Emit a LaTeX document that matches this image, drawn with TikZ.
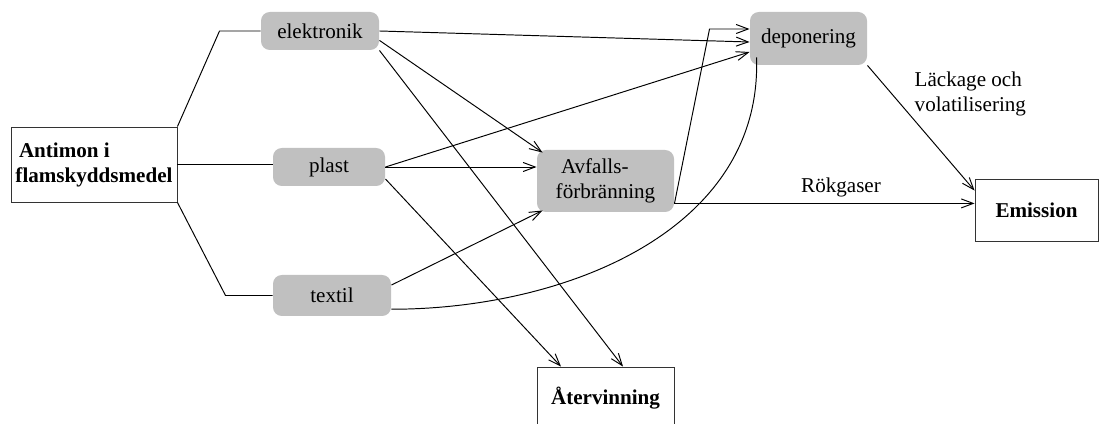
\documentclass[tikz,border=0pt]{standalone}
\usepackage{fontspec}
\setmainfont{Liberation Serif}
\usepackage{tikz}
\usetikzlibrary{arrows.meta, positioning}
\definecolor{boxgray}{RGB}{192,192,192}

\begin{document}
\begin{tikzpicture}[
  flow/.style={rectangle, fill=boxgray, rounded corners=5pt, inner sep=0pt, align=left},
  endp/.style={rectangle, draw=black!80, line width=0.5pt, inner sep=0pt, align=left, font=\fontsize{12}{14.2}\selectfont\bfseries},
  lbl/.style={inner sep=1pt, align=left},
  >={Straight Barb[length=2.4mm,width=1.8mm]}, line width=0.55pt,
  every node/.append style={font=\fontsize{12}{14.2}\selectfont}
]
  \useasboundingbox (0,0) rectangle (21.98,8.46);

  \node[endp, minimum width=3.32cm, minimum height=1.5cm] (antimon) at (1.88,5.17)
    {\hspace*{2pt}Antimon i\\flamskyddsmedel};
  \node[flow, minimum width=2.36cm, minimum height=0.76cm] (elek)   at (6.40,7.84) {elektronik};
  \node[flow, minimum width=2.24cm, minimum height=0.76cm] (plast)  at (6.58,5.12) {plast};
  \node[flow, minimum width=2.36cm, minimum height=0.82cm] (textil) at (6.64,2.55) {textil};
  \node[flow, minimum width=2.74cm, minimum height=1.24cm] (avf)    at (12.11,4.84)
    {\hspace*{3pt}Avfalls-\\förbränning};
  \node[flow, minimum width=2.34cm, minimum height=1.06cm] (dep)    at (16.17,7.69) {deponering};
  \node[endp, minimum width=2.46cm, minimum height=1.24cm] (emis)   at (20.73,4.26) {Emission};
  \node[endp, minimum width=2.74cm, minimum height=1.24cm] (ater)   at (12.11,0.50) {Återvinning};

  % fran kallan till produkterna
  \draw (antimon.north east) -- ([xshift=-0.82cm]elek.west) -- (elek.west);
  \draw (antimon.east) -- (antimon.east -| plast.west);
  \draw (antimon.south east) -- ([xshift=-0.94cm]textil.west) -- (textil.west);

  % produkterna
  \draw[->] (elek.east) -- ([yshift=-0.07cm]dep.west);
  \draw[->] (elek.-9) -- ([shift={(0.12,-0.06)}]avf.north west);
  \draw[->] (elek.south east) -- ([xshift=0.35cm]ater.north);
  \draw[->] (plast.east) -- ([yshift=-0.27cm]dep.west);
  \draw[->] (plast.east) -- (plast.east -| avf.west);
  \draw[->] (plast.-12) -- ([xshift=-0.89cm]ater.north);
  \draw[->] (textil.10) -- ([shift={(0.12,0.04)}]avf.south west);
  \draw (textil.-13) to[out=0, in=-88] ([shift={(0.14,0.16)}]dep.south west);

  % avfall och utslapp
  \draw[->] (avf.-18) -- ([shift={(-0.8,0.19)}]dep.west) -- ([yshift=0.19cm]dep.west);
  \draw[->] (avf.-18) -- (avf.-18 -| emis.west) node[pos=0.555, above] {Rökgaser};
  \draw[->] (dep.south east) -- ([yshift=-0.24cm]emis.north west)
    node[lbl, pos=0.42, anchor=south west] {Läckage och\\volatilisering};
\end{tikzpicture}
\end{document}
